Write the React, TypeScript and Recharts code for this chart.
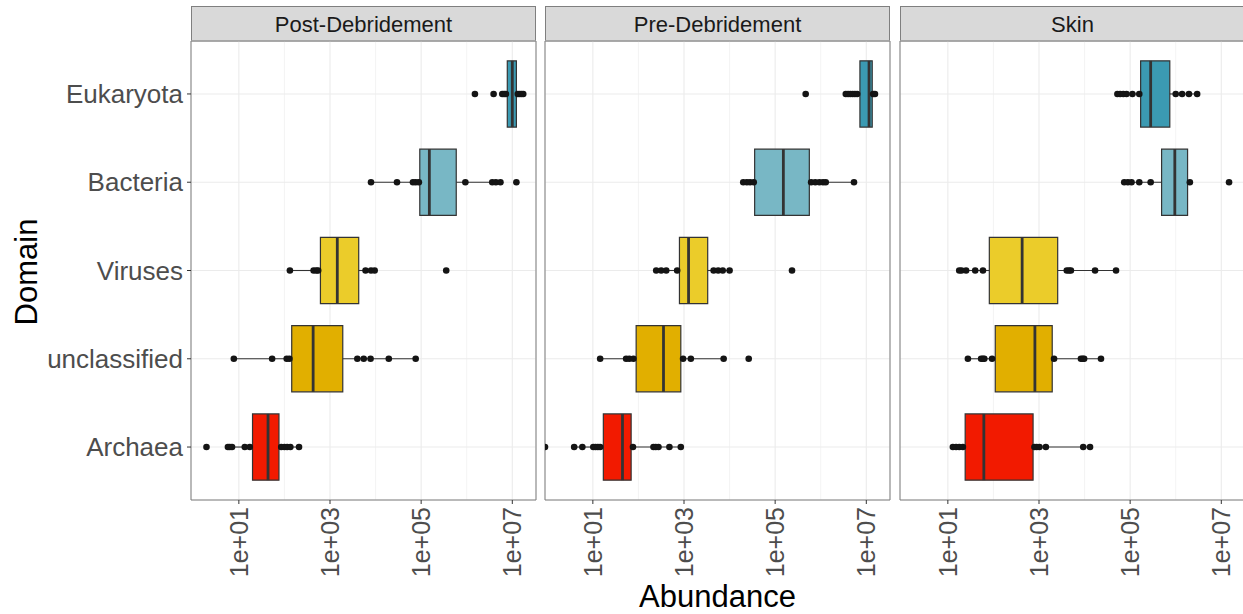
import React from "react";
import {
  ScatterChart,
  Scatter,
  XAxis,
  YAxis,
  CartesianGrid,
  ReferenceArea,
  ReferenceLine,
} from "recharts";

// categories, bottom to top
const domains = ["Archaea", "unclassified", "Viruses", "Bacteria", "Eukaryota"];
const domainColors = ["#F21A00", "#E1AF00", "#EBCC2A", "#78B7C5", "#3B9AB2"];
const panels = ["Post-Debridement", "Pre-Debridement", "Skin"];

const xTicks = [1e1, 1e3, 1e5, 1e7];
const xTickLabels = ["1e+01", "1e+03", "1e+05", "1e+07"];
const xMinor = [1e2, 1e4, 1e6];

// all values are log10(abundance), one entry per domain
const postLo = [0.76, 0.89, 2.12, 3.9, 6.78];
const postQ1 = [1.3, 2.16, 2.79, 4.97, 6.89];
const postMed = [1.64, 2.63, 3.16, 5.18, 7.0];
const postQ3 = [1.88, 3.28, 3.63, 5.77, 7.09];
const postHi = [2.32, 4.88, 3.98, 6.74, 7.24];
const postPoints = [
  [0.29, 0.76, 0.8, 0.85, 1.13, 1.24, 1.93, 2.0, 2.06, 2.13, 2.32],
  [0.89, 1.73, 2.05, 2.11, 3.6, 3.74, 3.89, 4.29, 4.88],
  [2.12, 2.64, 2.7, 2.74, 3.78, 3.9, 3.98, 5.55],
  [3.9, 4.47, 4.82, 4.88, 4.95, 5.97, 6.56, 6.64, 6.74, 7.09],
  [6.18, 6.59, 6.78, 6.82, 6.86, 7.12, 7.16, 7.2, 7.24],
];

const preLo = [0.59, 1.16, 2.39, 4.3, 6.55];
const preQ1 = [1.23, 1.95, 2.9, 4.55, 6.86];
const preMed = [1.65, 2.55, 3.1, 5.18, 7.06];
const preQ3 = [1.84, 2.93, 3.52, 5.75, 7.13];
const preHi = [2.93, 3.87, 4.0, 6.73, 7.19];
const prePoints = [
  [-0.05, 0.59, 0.77, 1.01, 1.06, 1.11, 1.16, 1.88, 2.33, 2.38, 2.44, 2.68, 2.93],
  [1.16, 1.73, 1.8, 1.89, 2.98, 3.15, 3.87, 4.42],
  [2.39, 2.5, 2.61, 2.85, 3.65, 3.75, 3.85, 4.0, 5.37],
  [4.3, 4.38, 4.45, 4.53, 5.79, 5.88, 5.97, 6.05, 6.11, 6.73],
  [5.67, 6.55, 6.6, 6.65, 6.7, 6.75, 6.8, 7.15, 7.19],
];

const skinLo = [1.11, 1.44, 1.25, 4.87, 4.72];
const skinQ1 = [1.38, 2.04, 1.91, 5.69, 5.23];
const skinMed = [1.79, 2.91, 2.63, 5.98, 5.45];
const skinQ3 = [2.87, 3.29, 3.41, 6.26, 5.87];
const skinHi = [4.12, 4.36, 4.69, 6.31, 6.47];
const skinPoints = [
  [1.11, 1.18, 1.25, 1.33, 2.9, 2.95, 3.01, 3.15, 3.97, 4.12],
  [1.44, 1.73, 1.77, 1.8, 1.97, 3.33, 3.92, 3.96, 3.99, 4.36],
  [1.25, 1.3, 1.4, 1.6, 1.77, 3.61, 3.66, 3.7, 4.23, 4.69],
  [4.87, 4.95, 5.03, 5.2, 5.45, 6.31, 7.17],
  [4.72, 4.78, 4.85, 4.92, 5.05, 5.2, 6.0, 6.14, 6.29, 6.47],
];

const X_DOMAIN = [Math.pow(10, -0.05), Math.pow(10, 7.52)];
const Y_DOMAIN = [0.4, 5.6];
const HALF_BOX = 0.375;
const PANEL_LEFT = [191, 545, 900];
const PANEL_W = 345;
const BORDER = "#7F7F7F";
const INK = "#333333";

const exp10 = (v: number) => Math.pow(10, v);

function buildPanel(lo: number[], q1: number[], med: number[], q3: number[], hi: number[], pts: number[][]) {
  const boxes = domains.map((name, i) => ({
    name,
    pos: i + 1,
    color: domainColors[i],
    lo: exp10(lo[i]),
    q1: exp10(q1[i]),
    med: exp10(med[i]),
    q3: exp10(q3[i]),
    hi: exp10(hi[i]),
  }));
  const points = pts.flatMap((row, i) => row.map((p) => ({ v: exp10(p), pos: i + 1 })));
  return { boxes, points };
}

const panelData = [
  buildPanel(postLo, postQ1, postMed, postQ3, postHi, postPoints),
  buildPanel(preLo, preQ1, preMed, preQ3, preHi, prePoints),
  buildPanel(skinLo, skinQ1, skinMed, skinQ3, skinHi, skinPoints),
];

const XTick = (props: any) => {
  const { x, y, payload } = props;
  const i = xTicks.indexOf(payload.value);
  return (
    <text
      x={x}
      y={y}
      dy="0.36em"
      textAnchor="end"
      transform={`rotate(-90 ${x} ${y})`}
      fontSize={25}
      fill="#4D4D4D"
    >
      {xTickLabels[i]}
    </text>
  );
};

const Dot = (props: any) => <circle cx={props.cx} cy={props.cy} r={3.3} fill="#141414" />;

function Panel({ index }: { index: number }) {
  const first = index === 0;
  const { boxes, points } = panelData[index];
  return (
    <div style={{ position: "absolute", left: first ? 0 : PANEL_LEFT[index] - 4, top: 0 }}>
      <ScatterChart
        width={first ? 540 : 353}
        height={614}
        margin={{ top: 41, right: 4, bottom: 0, left: first ? 0 : 4 }}
      >
        <CartesianGrid horizontal={false} verticalValues={xMinor} stroke="#EBEBEB" strokeWidth={0.6} />
        <CartesianGrid stroke="#EBEBEB" strokeWidth={1.1} />
        <XAxis
          type="number"
          dataKey="v"
          scale="log"
          domain={X_DOMAIN}
          allowDataOverflow
          ticks={xTicks}
          interval={0}
          height={114}
          tickSize={4}
          tickMargin={3}
          axisLine={false}
          tickLine={{ stroke: INK }}
          tick={<XTick />}
        />
        <YAxis
          type="number"
          dataKey="pos"
          domain={Y_DOMAIN}
          allowDataOverflow
          ticks={[1, 2, 3, 4, 5]}
          interval={0}
          width={191}
          hide={!first}
          tickSize={4}
          tickMargin={4}
          axisLine={false}
          tickLine={{ stroke: INK }}
          tick={{ fontSize: 26, fill: "#4D4D4D" }}
          tickFormatter={(p: number) => domains[p - 1]}
        />
        <Scatter data={points} shape={<Dot />} isAnimationActive={false} />
        {boxes.map((b) => (
          <ReferenceLine
            key={`wl-${b.name}`}
            segment={[
              { x: b.lo, y: b.pos },
              { x: b.q1, y: b.pos },
            ]}
            stroke={INK}
            strokeWidth={1.1}
          />
        ))}
        {boxes.map((b) => (
          <ReferenceLine
            key={`wh-${b.name}`}
            segment={[
              { x: b.q3, y: b.pos },
              { x: b.hi, y: b.pos },
            ]}
            stroke={INK}
            strokeWidth={1.1}
          />
        ))}
        {boxes.map((b) => (
          <ReferenceArea
            key={`b-${b.name}`}
            x1={b.q1}
            x2={b.q3}
            y1={b.pos - HALF_BOX}
            y2={b.pos + HALF_BOX}
            fill={b.color}
            fillOpacity={1}
            stroke={INK}
            strokeWidth={1.2}
          />
        ))}
        {boxes.map((b) => (
          <ReferenceLine
            key={`m-${b.name}`}
            segment={[
              { x: b.med, y: b.pos - HALF_BOX },
              { x: b.med, y: b.pos + HALF_BOX },
            ]}
            stroke={INK}
            strokeWidth={2.8}
          />
        ))}
        <ReferenceArea
          x1={X_DOMAIN[0]}
          x2={X_DOMAIN[1]}
          y1={Y_DOMAIN[0]}
          y2={Y_DOMAIN[1]}
          fill="none"
          stroke={BORDER}
          strokeWidth={1}
          ifOverflow="visible"
        />
      </ScatterChart>
    </div>
  );
}

export default function App() {
  return (
    <div
      style={{
        position: "absolute",
        left: 0,
        top: 0,
        width: 1243,
        height: 614,
        overflow: "hidden",
        background: "#fff",
        fontFamily: "'Liberation Sans', Arial, sans-serif",
      }}
    >
      <svg width={1243} height={614} style={{ position: "absolute", left: 0, top: 0 }}>
        {panels.map((name, i) => (
          <g key={name}>
            <rect
              x={PANEL_LEFT[i] + 0.5}
              y={6.5}
              width={PANEL_W - 1}
              height={34.5}
              fill="#D9D9D9"
              stroke={BORDER}
            />
            <text x={PANEL_LEFT[i] + PANEL_W / 2} y={32} textAnchor="middle" fontSize={22} fill="#1A1A1A">
              {name}
            </text>
          </g>
        ))}
        <text x={717.5} y={607} textAnchor="middle" fontSize={31} fill="#000">
          Abundance
        </text>
        <text transform="translate(37,272) rotate(-90)" textAnchor="middle" fontSize={31} fill="#000">
          Domain
        </text>
      </svg>
      {panels.map((name, i) => (
        <Panel key={name} index={i} />
      ))}
    </div>
  );
}
